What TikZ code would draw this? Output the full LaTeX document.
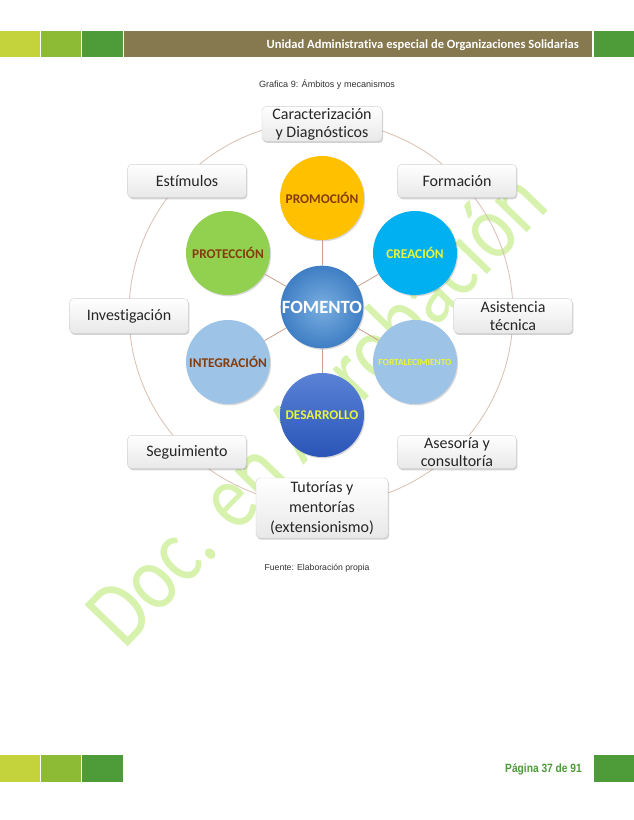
\documentclass[tikz,border=0pt]{standalone}
\usepackage{fontspec}
\setmainfont[Ligatures=NoCommon]{Carlito}
\newfontfamily\arialf{Liberation Sans}
\usetikzlibrary{shadows,positioning}
\definecolor{sqA}{HTML}{C4D23B}
\definecolor{sqB}{HTML}{8DBB35}
\definecolor{sqC}{HTML}{4E9B3A}
\definecolor{barbrown}{HTML}{86784F}
\definecolor{wmgreen}{HTML}{D6F2AC}
\definecolor{linkbrown}{HTML}{C9A08C}
\definecolor{ringbrown}{HTML}{D9BFB2}
\definecolor{txtbrown}{HTML}{843C0C}
\definecolor{txtyellow}{HTML}{E8F53A}
\definecolor{cgold}{HTML}{FFC000}
\definecolor{cgreen}{HTML}{92D050}
\definecolor{ccyan}{HTML}{00B0F0}
\definecolor{clight}{HTML}{9DC3E6}
\definecolor{cfomA}{HTML}{79AEE0}
\definecolor{cfomB}{HTML}{3F7EC4}
\definecolor{cdesA}{HTML}{5A82D6}
\definecolor{cdesB}{HTML}{2A55B8}
\tikzset{
  box/.style={rectangle, rounded corners=3pt, draw=gray!35, line width=0.3pt,
    top color=white, bottom color=gray!18, drop shadow={shadow xshift=0.8pt, shadow yshift=-1.2pt, opacity=0.35},
    align=center, inner sep=1pt, font=\fontsize{12}{13.5}\selectfont, text=black!85},
  bub/.style={circle, minimum size=63pt, inner sep=0pt, draw=none,
    drop shadow={shadow xshift=0.8pt, shadow yshift=-1pt, opacity=0.3},
    font=\bfseries\fontsize{10}{11}\selectfont},
  link/.style={draw=linkbrown, line width=0.6pt}
}
\begin{document}
\begin{tikzpicture}[x=0.75pt,y=-0.75pt]
\useasboundingbox (0,0) rectangle (634,820);
\fill[white] (0,0) rectangle (634,820);
% header
\fill[sqA] (0,31) rectangle (40,57);
\fill[sqB] (41,31) rectangle (81,57);
\fill[sqC] (82,31) rectangle (123,57);
\fill[barbrown] (124,31) rectangle (592,57);
\fill[sqC] (594,31) rectangle (634,57);
\node[anchor=east, text=white, font=\bfseries\fontsize{9.4}{11}\selectfont, inner sep=0pt] (head) at (579,45) {Unidad Administrativa especial de Organizaciones Solidarias};
% footer
\fill[sqA] (0,755) rectangle (40,782);
\fill[sqB] (41,755) rectangle (81,782);
\fill[sqC] (82,755) rectangle (123,782);
\fill[sqC] (594,755) rectangle (634,782);
\node[anchor=east, text=sqC, font=\arialf\bfseries\fontsize{9}{10}\selectfont, inner sep=0pt, xscale=0.85] (foot) at (582,769) {Página 37 de 91};
% watermark
\node[text=wmgreen, rotate=46, xscale=0.82, font=\fontsize{70}{74}\selectfont, inner sep=0pt] (wm) at (320,412) {Doc. en Aprobación};
% caption
\node[font=\arialf\fontsize{6.8}{8}\selectfont, text=black!80] (cap) at (327,85) {Grafica 9: Ámbitos y mecanismos};
\node[font=\arialf\fontsize{6.5}{8}\selectfont, text=black!80] (src) at (317,568) {Fuente: Elaboración propia};
% ring
\draw[ringbrown, line width=0.6pt] (321,313) circle[radius=192];
% bubbles
\node[bub, shading=radial, inner color=cfomA, outer color=cfomB, minimum size=62pt, font=\bfseries\fontsize{14}{15}\selectfont, text=white] (fom) at (322,307) {FOMENTO};
\node[bub, fill=cgold, text=txtbrown] (pro) at (322,198) {PROMOCIÓN};
\node[bub, fill=ccyan, text=txtyellow] (cre) at (415,253) {CREACIÓN};
\node[bub, fill=clight, text=txtyellow, font=\bfseries\fontsize{7}{8}\selectfont] (fort) at (415,362) {FORTALECIMIENTO};
\node[bub, top color=cdesA, bottom color=cdesB, text=txtyellow] (des) at (322,415) {DESARROLLO};
\node[bub, fill=clight, text=txtbrown] (int) at (228,362) {INTEGRACIÓN};
\node[bub, fill=cgreen, text=txtbrown] (prot) at (228,253) {PROTECCIÓN};
% links
\foreach \b in {pro,cre,fort,des,int,prot} \draw[link] (fom) -- (\b);
% boxes
\node[box, minimum width=90pt, minimum height=26pt] (car) at (322,124) {Caracterización\\y Diagnósticos};
\node[box, minimum width=89pt, minimum height=25pt] (est) at (187,181) {Estímulos};
\node[box, minimum width=89pt, minimum height=25pt] (for) at (457,181) {Formación};
\node[box, minimum width=89pt, minimum height=26pt] (inv) at (129,316) {Investigación};
\node[box, minimum width=89pt, minimum height=26pt] (asi) at (513,316) {Asistencia\\técnica};
\node[box, minimum width=89pt, minimum height=25pt] (seg) at (187,452) {Seguimiento};
\node[box, minimum width=89pt, minimum height=25pt] (ase) at (457,452) {Asesoría y\\consultoría};
\node[box, minimum width=99pt, minimum height=45pt, font=\fontsize{12}{15}\selectfont] (tut) at (322,508) {Tutorías y\\mentorías\\(extensionismo)};
\end{tikzpicture}
\end{document}
